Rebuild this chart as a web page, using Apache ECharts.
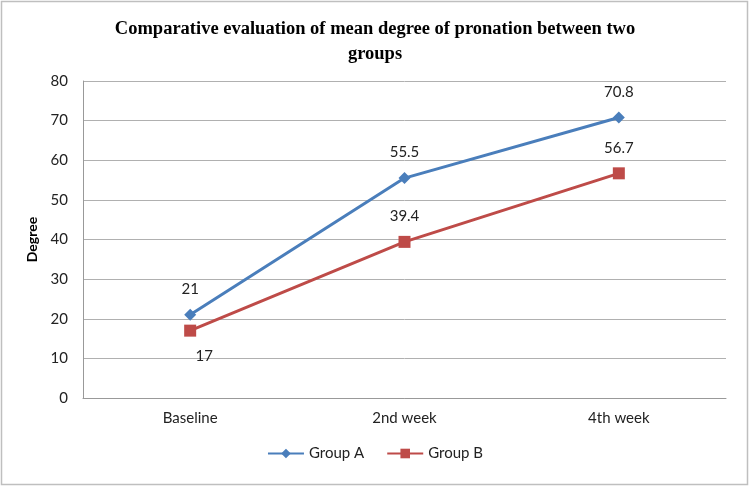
<!DOCTYPE html>
<html><head><meta charset="utf-8">
<script src="https://cdn.jsdelivr.net/npm/echarts@6/dist/echarts.min.js"></script>
<style>html,body{margin:0;padding:0;background:#fff}#c{width:750px;height:486px}</style>
</head><body><div id="c"></div>
<script>
const categories = ['Baseline', '2nd week', '4th week'];
const groupA = [21, 55.5, 70.8];
const groupB = [17, 39.4, 56.7];
const yTicks = [0, 10, 20, 30, 40, 50, 60, 70, 80];

const chart = echarts.init(document.getElementById('c'));
const font = 'Lato, "Open Sans", sans-serif';
chart.setOption({
  animation: false,
  graphic: [{type:'rect', shape:{x:1.5,y:1.5,width:746,height:483}, style:{fill:'none', stroke:'#bfbfbf', lineWidth:1.5}}],
  title: {
    text: 'Comparative evaluation of mean degree of pronation between two\ngroups',
    left: 'center', top: 12,
    textStyle: {fontFamily: '"Liberation Serif", "Times New Roman", serif', fontWeight: 'bold', fontSize: 18.5, lineHeight: 25, color: '#000'}
  },
  grid: {left: 83, right: 24, top: 81, bottom: 88},
  legend: {
    bottom: 20, left: 'center', itemWidth: 36, itemHeight: 12, itemGap: 22,
    textStyle: {fontFamily: font, fontSize: 15, color: '#222'},
    data: ['Group A', 'Group B']
  },
  xAxis: {
    type: 'category', data: categories,
    axisLine: {lineStyle: {color: '#999'}},
    axisTick: {show: false},
    axisLabel: {fontFamily: font, fontSize: 15, color: '#222', margin: 13}
  },
  yAxis: {
    type: 'value', min: 0, max: 80, interval: 10,
    name: 'Degree', nameLocation: 'middle', nameGap: 36, nameRotate: 90,
    nameTextStyle: {fontFamily: font, fontWeight: 'bold', fontSize: 14, color: '#000'},
    axisLine: {show: true, lineStyle: {color: '#999'}},
    axisTick: {show: false},
    axisLabel: {fontFamily: font, fontSize: 15, color: '#222', margin: 15,
      formatter: v => yTicks.includes(v) ? String(v) : ''},
    splitLine: {lineStyle: {color: '#b0b0b0'}}
  },
  series: [
    {name: 'Group A', type: 'line', data: groupA, symbol: 'diamond', symbolSize: 12,
      lineStyle: {width: 3, color: '#4A7EBB'}, itemStyle: {color: '#4A7EBB'},
      label: {show: true, position: 'top', distance: 12, fontFamily: font, fontSize: 15, color: '#222'}},
    {name: 'Group B', type: 'line', symbol: 'rect', symbolSize: 12,
      lineStyle: {width: 3, color: '#BE4B48'}, itemStyle: {color: '#BE4B48'},
      label: {show: true, position: 'top', distance: 12, fontFamily: font, fontSize: 15, color: '#222',
        formatter: p => String(p.value)},
      data: groupB.map((v, i) => i === 0 ? {value: v, label: {position: 'bottom', offset: [14, 0]}} : v)}
  ]
});
</script></body></html>
